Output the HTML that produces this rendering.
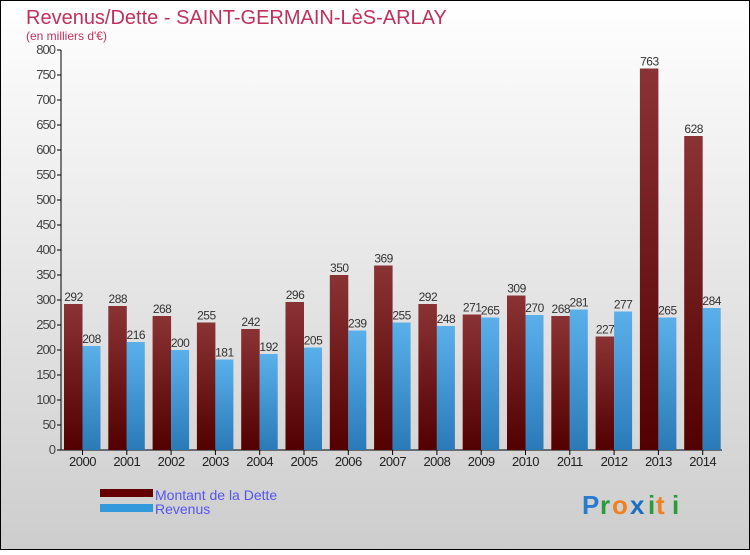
<!DOCTYPE html>
<html><head><meta charset="utf-8"><style>
html,body{margin:0;padding:0}
body{width:750px;height:550px;overflow:hidden;font-family:"Liberation Sans",sans-serif}
</style></head><body>
<svg width="750" height="550" xmlns="http://www.w3.org/2000/svg">
<defs>
<linearGradient id="bg" x1="0" y1="0" x2="0" y2="1"><stop offset="0" stop-color="#ffffff"/><stop offset="1" stop-color="#cdcdcd"/></linearGradient>
<linearGradient id="gd" x1="0" y1="0" x2="0" y2="1"><stop offset="0" stop-color="#8a3334"/><stop offset="1" stop-color="#520000"/></linearGradient>
<linearGradient id="gr" x1="0" y1="0" x2="0" y2="1"><stop offset="0" stop-color="#5bb0ea"/><stop offset="1" stop-color="#2a7ab8"/></linearGradient>
</defs>
<rect x="0.5" y="0.5" width="749" height="549" fill="url(#bg)" stroke="#000"/>
<text x="26" y="24" font-size="20" fill="#c0305a">Revenus/Dette - SAINT-GERMAIN-LèS-ARLAY</text>
<text x="26" y="40" font-size="12" fill="#c0305a">(en milliers d'€)</text>
<g id="axes"></g>
<g id="bars"></g>
<rect x="100" y="489" width="53" height="8" fill="#650000"/>
<rect x="100" y="504" width="53" height="8" fill="#3399dd"/>
<text x="155" y="500" font-size="14" fill="#5555ee">Montant de la Dette</text>
<text x="155" y="514" font-size="14" fill="#5555ee">Revenus</text>
<g font-size="26" font-weight="bold">
<text x="582" y="514" fill="#2a7ad0">P</text><text x="600" y="514" fill="#2a9a3a">r</text><text x="612" y="514" fill="#f08020">o</text><text x="630" y="514" fill="#1a70c0">x</text><text x="648" y="514" fill="#2a9a3a">i</text><text x="656" y="514" fill="#f08020">t</text><text x="672" y="514" fill="#2a9a3a">i</text>
</g>
</svg>
<script>
const years=["2000","2001","2002","2003","2004","2005","2006","2007","2008","2009","2010","2011","2012","2013","2014"];
const dette=[292,288,268,255,242,296,350,369,292,271,309,268,227,763,628];
const revenus=[208,216,200,181,192,205,239,255,248,265,270,281,277,265,284];
const ticks=[0,50,100,150,200,250,300,350,400,450,500,550,600,650,700,750,800];
const NS="http://www.w3.org/2000/svg";
const y0=450,yTop=50,vMax=800;
const ys=v=>y0-(v/vMax)*(y0-yTop);
const cx=i=>82.5+i*44.3;
function mk(t,a,p){const e=document.createElementNS(NS,t);for(const k in a)e.setAttribute(k,a[k]);p.appendChild(e);return e;}
const ax=document.getElementById('axes'),bg=document.getElementById('bars');
const yl=mk('line',{x1:61,y1:50,x2:61,y2:450,stroke:'#000'},ax);


const xl=mk('line',{x1:61,y1:450,x2:722,y2:450,stroke:'#000'},ax);


ticks.forEach(v=>{const y=ys(v);
mk('line',{x1:57,y1:y,x2:61,y2:y,stroke:'#000'},ax);
const t=mk('text',{x:55,y:y+4,'font-size':13,fill:'#444','text-anchor':'end','letter-spacing':'-1'},ax);t.textContent=v;

});
years.forEach((yr,i)=>{const c=cx(i);
mk('line',{x1:c,y1:450,x2:c,y2:455,stroke:'#000'},ax);
const t=mk('text',{x:c,y:466,'font-size':13,fill:'#222','text-anchor':'middle','letter-spacing':'-0.5'},ax);t.textContent=yr;


const d=mk('rect',{x:c-18.5,y:ys(dette[i]),width:18.5,height:y0-ys(dette[i]),fill:'url(#gd)'},bg);


const r=mk('rect',{x:c,y:ys(revenus[i]),width:18,height:y0-ys(revenus[i]),fill:'url(#gr)'},bg);


const l1=mk('text',{x:c-9,y:ys(dette[i])-3,'font-size':12,fill:'#333','text-anchor':'middle','letter-spacing':'-0.5'},bg);l1.textContent=dette[i];


const l2=mk('text',{x:c+9,y:ys(revenus[i])-3,'font-size':12,fill:'#333','text-anchor':'middle','letter-spacing':'-0.5'},bg);l2.textContent=revenus[i];

});
</script>
</body></html>
